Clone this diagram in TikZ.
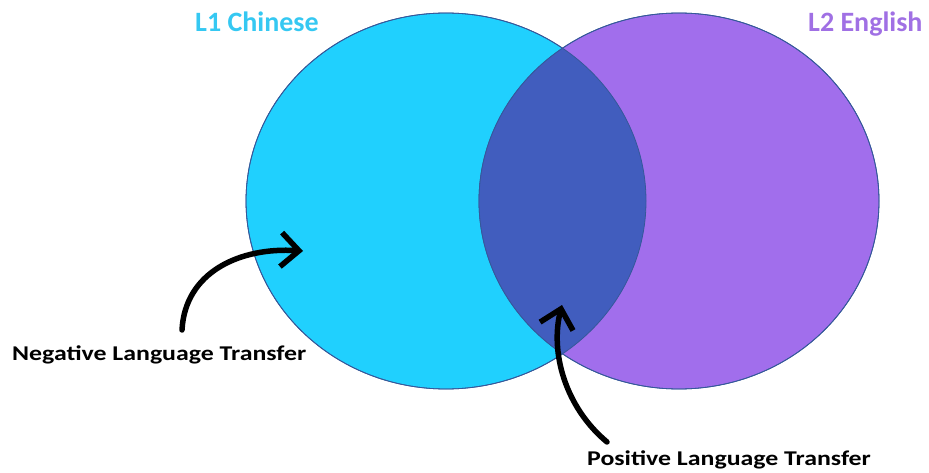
\documentclass[tikz,border=0pt]{standalone}
\usepackage{fontspec}
\setmainfont{Carlito}
\newfontfamily\widefont[FakeStretch=1.23]{Carlito}
\usepackage{xcolor}
\usetikzlibrary{shapes.geometric,arrows.meta,positioning}

\definecolor{lonecyan}{HTML}{20D0FE}
\definecolor{ltwopurple}{HTML}{A16EEC}
\definecolor{overlapblue}{HTML}{415DBE}
\definecolor{rimblue}{HTML}{35589A}
\definecolor{lonetext}{HTML}{35C8F2}
\definecolor{ltwotext}{HTML}{A070E4}

\begin{document}
\begin{tikzpicture}[
  x=1pt, y=1pt,
  langset/.style={
    ellipse,
    draw=rimblue,
    line width=0.8pt,
    minimum width=400pt,
    minimum height=376pt,
    inner sep=0pt
  },
  langtitle/.style={
    font=\bfseries\fontsize{28}{32}\selectfont,
    inner sep=0pt,
    anchor=base west
  },
  transfer/.style={
    font=\widefont\bfseries\fontsize{21}{25}\selectfont,
    inner sep=0pt,
    anchor=base west
  },
  pointer/.style={
    line width=5.5pt,
    line cap=round,
    line join=round,
    -{Straight Barb[length=18pt,width=34pt,line width=5.5pt]}
  }
]
\useasboundingbox (0,0) rectangle (929,472);

% --- THE TWO LANGUAGES ---
\node[langset, fill=lonecyan] (chinese) at (446,271) {};
\node[langset, fill=ltwopurple] (english) at (679,271) {};

% shared part of both sets
\begin{scope}
  \clip (chinese.center) ellipse [x radius=200pt, y radius=188pt];
  \fill[overlapblue] (english.center) ellipse [x radius=200pt, y radius=188pt];
\end{scope}
\draw[rimblue, line width=0.8pt] (chinese.center) ellipse [x radius=200pt, y radius=188pt];
\draw[rimblue, line width=0.8pt] (english.center) ellipse [x radius=200pt, y radius=188pt];

% --- TITLES ---
\node[langtitle, text=lonetext] (chinese_title) at (195,440) {L1 Chinese};
\node[langtitle, text=ltwotext] (english_title) at (808,440) {L2 English};

% --- TRANSFER LABELS ---
\node[transfer] (negative) at (12,112) {Negative Language Transfer};
\node[transfer] (positive) at (587,7) {Positive Language Transfer};

\coordinate (negative_tail) at (182,142);
\coordinate (negative_tip) at (303,221);
\coordinate (positive_tail) at (607,30);
\coordinate (positive_tip) at (562,167);

% --- ARROWS ---
\draw[pointer] (negative_tail) .. controls (185,200) and (240,225) .. (negative_tip);
\draw[pointer] (positive_tail) .. controls (565,65) and (550,120) .. (positive_tip);

\end{tikzpicture}
\end{document}
